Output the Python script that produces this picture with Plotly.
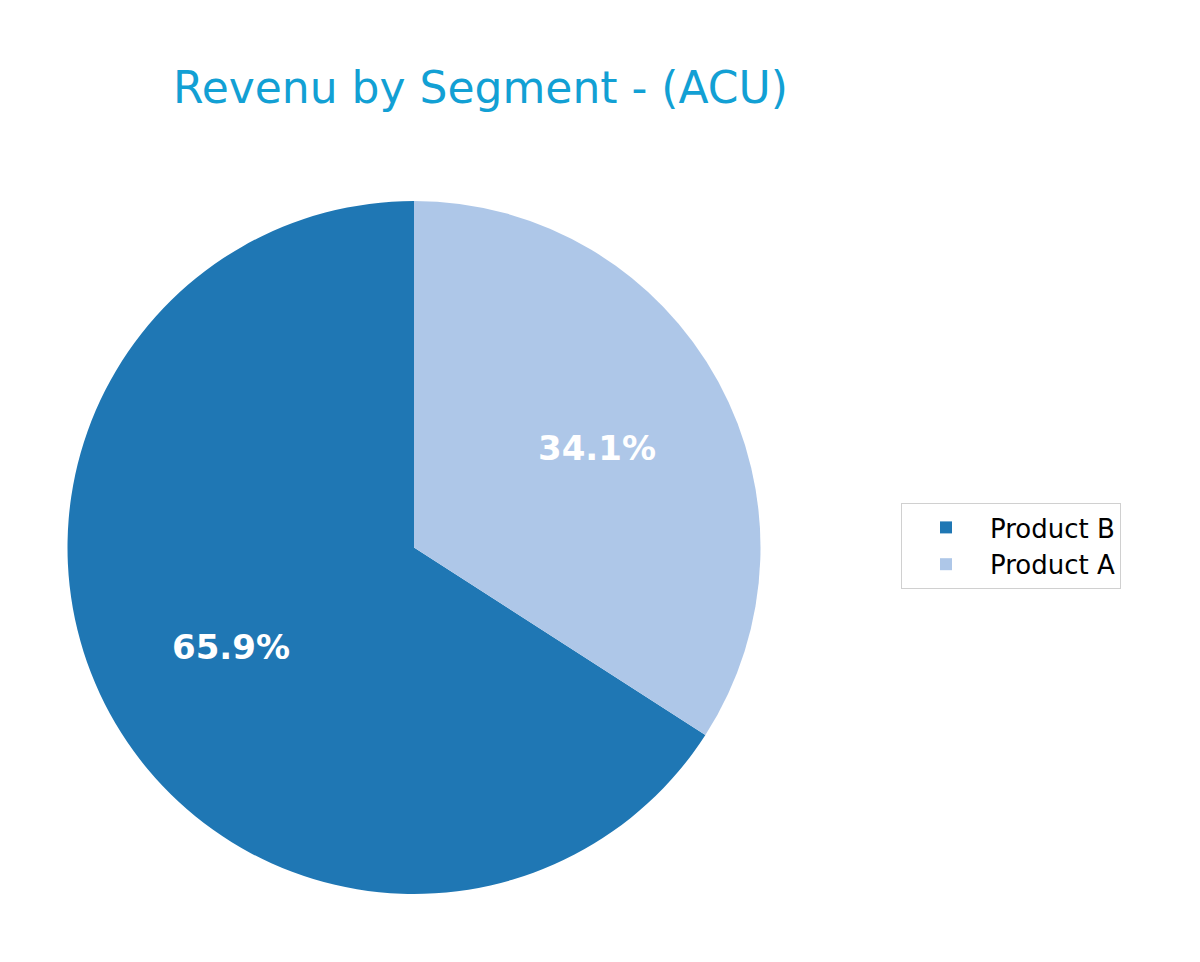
import math
import plotly.graph_objects as go

segments = ['Product B', 'Product A']
revenue_share = [65.9, 34.1]
slice_colors = ['#1f77b4', '#aec7e8']

W, H = 1200, 962
OFF = 8  # page body margin
# pie box in paper fractions
dom_x = [(67 - OFF) / W, (761 - OFF) / W]
dom_y = [1 - (894 - OFF) / H, 1 - (201 - OFF) / H]

total = sum(revenue_share)
# first slice should run counterclockwise from 12 o'clock (matplotlib startangle=90)
rot = 360.0 - 360.0 * revenue_share[0] / total

fig = go.Figure()

fig.add_trace(
    go.Pie(
        labels=segments,
        values=revenue_share,
        sort=False,
        direction='counterclockwise',
        rotation=rot,
        marker={'colors': slice_colors, 'line': {'width': 0}},
        textinfo='none',
        hoverinfo='label+percent',
        domain={'x': dom_x, 'y': dom_y},
    )
)

# percentage labels at 0.6 of the radius, like matplotlib autopct
cx = (dom_x[0] + dom_x[1]) / 2
cy = (dom_y[0] + dom_y[1]) / 2
rx = (dom_x[1] - dom_x[0]) / 2
ry = (dom_y[1] - dom_y[0]) / 2
start = 90.0
for v in revenue_share:
    span = 360.0 * v / total
    mid = math.radians(start + span / 2)
    start += span
    fig.add_annotation(
        x=cx + 0.6 * rx * math.cos(mid),
        y=cy + 0.6 * ry * math.sin(mid),
        xref='paper',
        yref='paper',
        text=f'<b>{100 * v / total:.1f}%</b>',
        showarrow=False,
        font={'family': 'DejaVu Sans', 'size': 34, 'color': 'white'},
        xanchor='center',
        yanchor='middle',
    )

fig.update_layout(
    width=W,
    height=H,
    margin=dict(l=0, r=0, t=0, b=0),
    paper_bgcolor='white',
    plot_bgcolor='white',
    font={'family': 'DejaVu Sans', 'color': 'black'},
    title={
        'text': 'Revenu by Segment - (ACU)',
        'x': (480.5 - OFF) / W,
        'xanchor': 'center',
        'y': 1 - (88 - OFF) / H,
        'yanchor': 'middle',
        'font': {'family': 'DejaVu Sans', 'size': 44, 'color': '#12a0d4'},
    },
    legend={
        'x': (901 - OFF) / W,
        'y': 1 - (503 - OFF) / H,
        'xanchor': 'left',
        'yanchor': 'top',
        'bgcolor': 'white',
        'bordercolor': '#d0d0d0',
        'borderwidth': 1,
        'itemwidth': 78,
        'font': {'family': 'DejaVu Sans', 'size': 26, 'color': 'black'},
        'traceorder': 'normal',
    },
)

fig.write_html('out.html')
